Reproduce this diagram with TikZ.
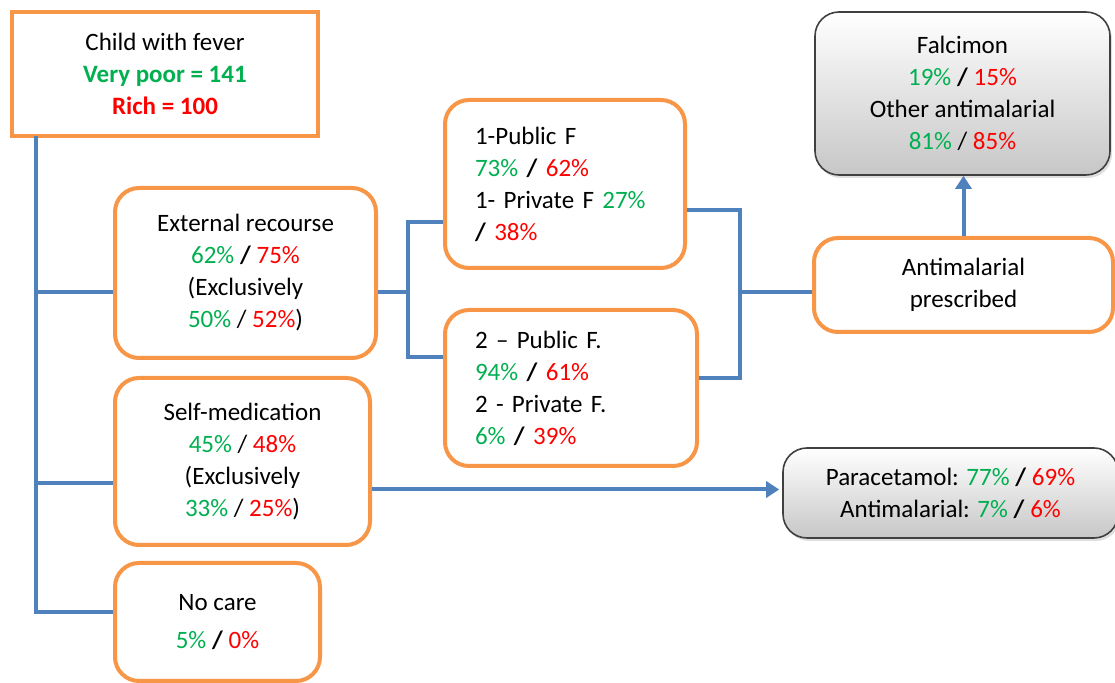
\documentclass[tikz,border=0pt]{standalone}
\usepackage{fontspec}
\setmainfont{Carlito}
\usetikzlibrary{arrows.meta,shadows}
\definecolor{boxorange}{RGB}{247,150,70}
\definecolor{linkblue}{RGB}{79,129,189}
\definecolor{pctgreen}{RGB}{0,176,80}
\definecolor{pctred}{RGB}{255,0,0}
\newcommand{\gpc}[1]{\textcolor{pctgreen}{#1}}
\newcommand{\rpc}[1]{\textcolor{pctred}{#1}}
\newcommand{\bsl}{\textbf{/}}

\begin{document}
\begin{tikzpicture}[x=0.5pt, y=-0.5pt,
    every node/.style={font=\fontsize{12.5}{16}\selectfont},
    rootbox/.style={draw=boxorange, line width=2pt, fill=white, inner sep=0pt, align=center},
    carebox/.style={draw=boxorange, line width=2pt, fill=white, rounded corners=12pt, inner sep=0pt, align=center},
    drugbox/.style={draw=black!75, line width=0.8pt, rounded corners=12pt, top color=white, bottom color=black!22,
        drop shadow={opacity=0.25, shadow xshift=1pt, shadow yshift=-1.5pt}, inner sep=0pt, align=center},
    link/.style={draw=linkblue, line width=2pt},
    linkarrow/.style={link, -{Triangle[width=8pt,length=6.5pt]}}]
        \useasboundingbox (0,0) rectangle (1115,683);
        \clip (0,0) rectangle (1115,683);
        % boxes
        \node[rootbox, minimum width=153pt, minimum height=62pt] (root) at (165,74)
            {Child with fever\\ \textbf{\gpc{Very poor = 141}}\\ \textbf{\rpc{Rich = 100}}};
        \node[carebox, minimum width=130.5pt, minimum height=85pt] (ext) at (245.5,273)
            {External recourse\\ \gpc{62\%} \bsl{} \rpc{75\%}\\ (Exclusively\\ \gpc{50\%} / \rpc{52\%})};
        \node[carebox, minimum width=127.5pt, minimum height=83.5pt] (self) at (242.5,461.5)
            {Self-medication\\ \gpc{45\%} / \rpc{48\%}\\ (Exclusively\\ \gpc{33\%} / \rpc{25\%})};
        \node[carebox, minimum width=102.5pt, minimum height=59pt] (nocare) at (217.5,622)
            {No care\\[3pt] \gpc{5\%} \bsl{} \rpc{0\%}};
        \node[carebox, align=left, text width=90pt, inner xsep=15pt, minimum height=84pt] (pub1) at (565,184)
            {1-Public F\\ \gpc{73\%} \bsl{} \rpc{62\%}\\ 1- Private F \gpc{27\%}\\ \bsl{} \rpc{38\%}};
        \node[carebox, align=left, text width=96pt, inner xsep=15pt, minimum height=78pt] (pub2) at (571,388)
            {2 -- Public F.\\ \gpc{94\%} \bsl{} \rpc{61\%}\\ 2 - Private F.\\ \gpc{6\%} \bsl{} \rpc{39\%}};
        \node[carebox, minimum width=149.5pt, minimum height=47pt] (anti) at (963.5,285)
            {Antimalarial\\ prescribed};
        \node[drugbox, minimum width=147.5pt, minimum height=81.5pt] (falc) at (962.5,93.5)
            {Falcimon\\ \gpc{19\%} \bsl{} \rpc{15\%}\\ Other antimalarial\\ \gpc{81\%} / \rpc{85\%}};
        \node[drugbox, minimum width=167.5pt, minimum height=45pt] (para) at (950.5,493)
            {Paracetamol: \gpc{77\%} \bsl{} \rpc{69\%}\\ Antimalarial: \gpc{7\%} \bsl{} \rpc{6\%}};
        % connectors
        \coordinate (trunk) at (36,136);
        \coordinate (split1) at (408,292);
        \coordinate (split2) at (740,292);
        \draw[link] (trunk) |- ([yshift=5pt]nocare.west);
        \draw[link] (trunk) |- ([yshift=-9.5pt]ext.west);
        \draw[link] (trunk) |- ([yshift=-10.75pt]self.west);
        \draw[link] ([yshift=-9.5pt]ext.east) -- (split1);
        \draw[link] (split1) |- ([yshift=-19pt]pub1.west);
        \draw[link] (split1) |- ([yshift=15.5pt]pub2.west);
        \draw[link] ([yshift=-13pt]pub1.east) -| (split2);
        \draw[link] ([yshift=5pt]pub2.east) -| (split2);
        \draw[link] (split2) -- (split2 -| anti.west);
        \draw[linkarrow] (anti.north) -- (anti.north |- falc.south);
        \draw[linkarrow] ([yshift=-14pt]self.east) -- ([yshift=-14pt, xshift=-1.5pt]self.east -| para.west);
\end{tikzpicture}
\end{document}
